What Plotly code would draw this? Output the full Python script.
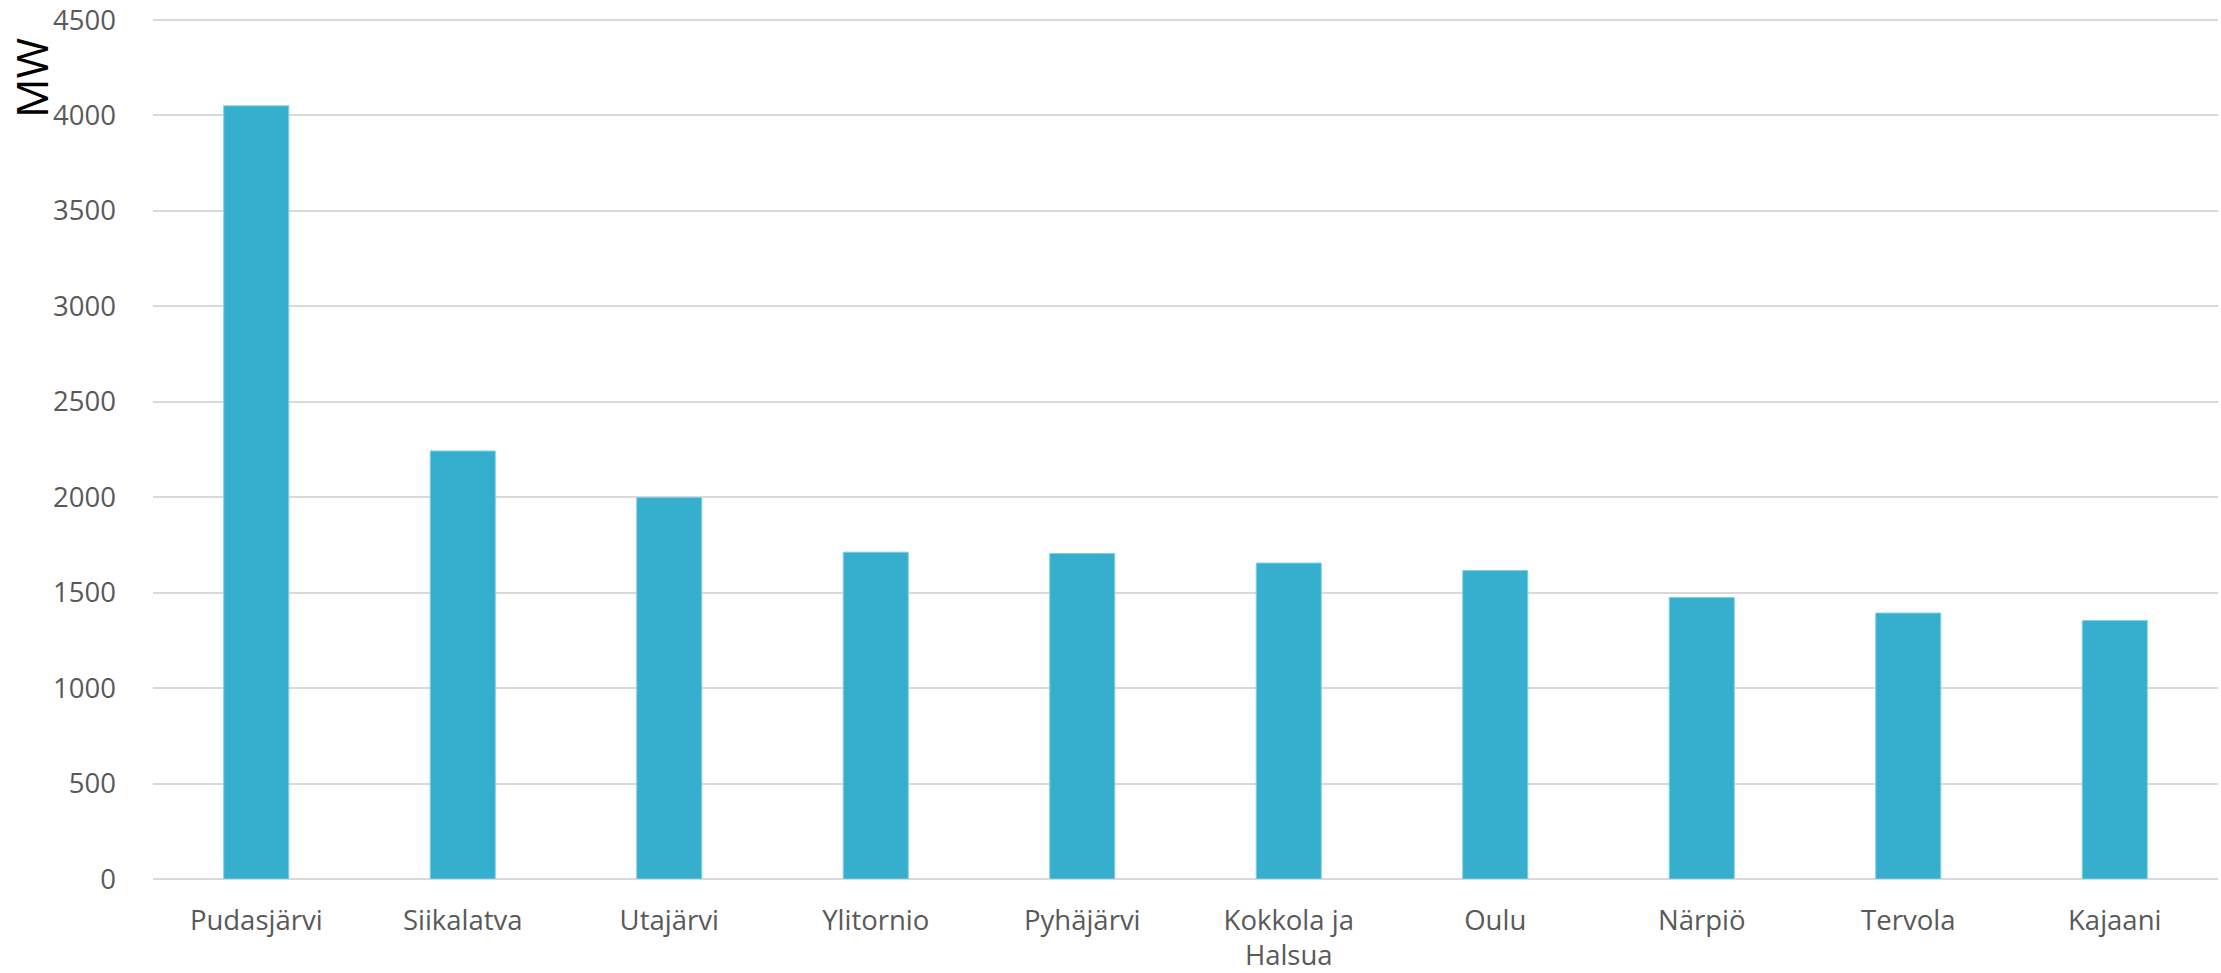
import plotly.graph_objects as go

categories = ["Pudasjärvi", "Siikalatva", "Utajärvi", "Ylitornio", "Pyhäjärvi",
              "Kokkola ja<br>Halsua", "Oulu", "Närpiö", "Tervola", "Kajaani"]
values_mw = [4050, 2242, 1998, 1712, 1705, 1655, 1616, 1475, 1393, 1354]
y_ticks = [0, 500, 1000, 1500, 2000, 2500, 3000, 3500, 4000, 4500]

W, H = 2221, 973
ML, MR, MT, MB = 153, 3, 18, 94
PW, PH = W - ML - MR, H - MT - MB

fig = go.Figure()
fig.add_trace(go.Bar(
    x=categories, y=values_mw,
    marker=dict(color="#36aece", line=dict(color="#7fd0e6", width=1)),
    width=0.315,
))

fig.update_layout(
    width=W, height=H,
    margin=dict(l=ML, r=MR, t=MT, b=MB),
    paper_bgcolor="white", plot_bgcolor="white",
    showlegend=False,
    font=dict(family="Open Sans", size=27.5, color="#595959"),
    xaxis=dict(
        automargin=False,
        showgrid=False, showline=False, zeroline=False,
        ticks="", ticklabelstandoff=22,
        tickfont=dict(family="Open Sans", size=27.5, color="#595959"),
    ),
    yaxis=dict(
        automargin=False,
        range=[0, 4510], tickvals=y_ticks,
        showgrid=True, gridcolor="#d9d9d9", gridwidth=2,
        zeroline=True, zerolinecolor="#d9d9d9", zerolinewidth=2,
        showline=False, ticks="", ticklabelstandoff=36,
        tickfont=dict(family="Open Sans", size=27.5, color="#595959"),
    ),
    annotations=[dict(
        text="MW", xref="paper", yref="paper",
        x=(31 - ML) / PW, y=1 - (78 - MT) / PH,
        xanchor="center", yanchor="middle", showarrow=False,
        textangle=-90, font=dict(family="Open Sans", size=44, color="black"),
    )],
)

fig.write_html(
    "out.html",
    config={"displayModeBar": False},
    post_script="document.body.style.margin='0';document.body.style.overflow='hidden';",
)
